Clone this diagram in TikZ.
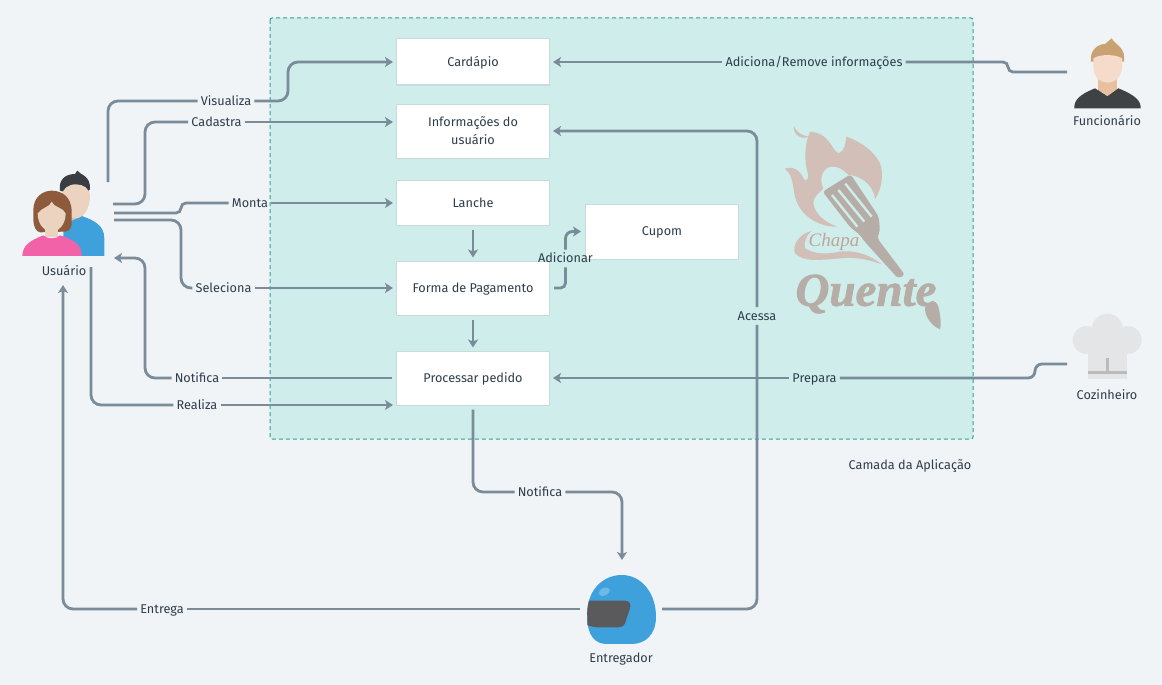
\documentclass[tikz,border=0pt]{standalone}
\usepackage{fontspec}
\setmainfont{Fira Sans}
\newfontfamily\logofont{Liberation Serif}
\newfontfamily\quentefont{Liberation Serif}[BoldItalicFeatures={FakeBold=1.6}]
\usetikzlibrary{arrows.meta,calc}
\definecolor{bgc}{HTML}{F0F4F7}
\definecolor{layerc}{HTML}{CEEDEB}
\definecolor{tealb}{HTML}{2FA297}
\definecolor{linec}{HTML}{7A8B99}
\definecolor{txt}{HTML}{2E3D4C}
\definecolor{boxb}{HTML}{C9DADB}
\definecolor{flame}{HTML}{D1BFB8}
\definecolor{spat}{HTML}{B5ADA6}
\definecolor{chapac}{HTML}{BFA59D}
\definecolor{skin}{HTML}{ECD3BF}
\definecolor{skind}{HTML}{E3C0A3}
\definecolor{cblue}{HTML}{3FA1DC}
\definecolor{cdark}{HTML}{3A3D42}
\definecolor{cbrown}{HTML}{8D5B3C}
\definecolor{cpink}{HTML}{F262A9}
\definecolor{ctan}{HTML}{C9A273}
\definecolor{cneck}{HTML}{E8C09F}
\definecolor{cshirt}{HTML}{3F4245}
\definecolor{cface}{HTML}{F6DACA}
\definecolor{chat}{HTML}{E3E5E7}
\definecolor{cband}{HTML}{B9BBBC}
\definecolor{cvisor}{HTML}{5A5A5C}
\definecolor{cshine}{HTML}{6DBAE8}
\tikzset{
  box/.style={draw=boxb,line width=1pt,fill=white,minimum width=153pt,inner sep=0pt,align=center,text=txt,font=\fontsize{12.7}{18}\selectfont},
  oneline/.style={text height=10pt,text depth=1.4pt},
  lab/.style={oneline,inner sep=3pt,text=txt,font=\fontsize{12.7}{14}\selectfont},
  captxt/.style={oneline,inner sep=0pt,text=txt,font=\fontsize{12.7}{14}\selectfont},
  conn/.style={draw=linec,line width=2.8pt,rounded corners=10pt},
  arr/.style={conn,-{Stealth[length=8pt,width=10pt,inset=2pt]}},
  iconz/.style={x=0.3333pt,y=-0.3333pt}
}
\begin{document}
\begin{tikzpicture}[x=1pt,y=-1pt]
\useasboundingbox (0,0) rectangle (1162,685);
\fill[bgc] (0,0) rectangle (1162,685);
% application layer
\draw[fill=layerc,draw=tealb,line width=1pt,dash pattern=on 4pt off 3pt,rounded corners=2pt] (270,18) rectangle (973,439);
\node[captxt] (camada) at (910,465) {Camada da Aplicação};
% logo
\begin{scope}[shift={(780,120)},iconz]
\fill[flame] (42,18) .. controls (38,40) and (60,62) .. (87,50) .. controls (70,48) and (50,40) .. (42,18) -- cycle;
\fill[flame] (90,35) .. controls (75,70) and (70,120) .. (85,165) .. controls (85,178) and (78,185) .. (72,178) .. controls (60,150) and (40,138) .. (14,146) .. controls (40,165) and (38,200) .. (45,230) .. controls (60,290) and (120,322) .. (172,320) .. controls (130,305) and (105,280) .. (100,250) .. controls (100,225) and (125,215) .. (130,205) .. controls (115,175) and (130,140) .. (155,140) .. controls (180,140) and (190,150) .. (205,165) .. controls (235,165) and (280,190) .. (285,237) .. controls (305,210) and (312,160) .. (300,130) .. controls (280,90) and (240,65) .. (200,50) .. controls (195,70) and (195,95) .. (175,100) .. controls (150,85) and (150,40) .. (90,35) -- cycle;
\end{scope}
\begin{scope}[shift={(790,225)},iconz]
\fill[flame] (65,18) .. controls (30,25) and (5,60) .. (15,85) .. controls (40,112) and (90,105) .. (150,100) .. controls (200,95) and (240,105) .. (275,118) .. controls (240,90) and (200,75) .. (150,80) .. controls (100,90) and (70,85) .. (45,70) .. controls (40,50) and (50,30) .. (65,18) -- cycle;
\end{scope}
\begin{scope}[shift={(770,110)},iconz]
\fill[spat,rounded corners=3pt] (158,245) -- (242,193) -- (326,320) -- (330,360) -- (322,385) -- (405,495) -- (384,505) -- (285,396) -- (270,375) -- (240,351) -- cycle;
\fill[spat] (465,595) .. controls (480,570) and (495,565) .. (505,590) .. controls (510,610) and (515,640) .. (510,658) .. controls (490,650) and (465,625) .. (465,595) -- cycle;
\draw[layerc,line width=2.4pt] (186,255) -- (262,350);
\draw[layerc,line width=2.4pt] (205,240) -- (283,335);
\draw[layerc,line width=2.4pt] (226,221) -- (305,320);
\end{scope}
\node[inner sep=0pt,text=chapac,font=\logofont\itshape\fontsize{19}{20}\selectfont] (chapa) at (834,242) {Chapa};
\node[inner sep=0pt,text=spat,font=\quentefont\bfseries\itshape\fontsize{47}{48}\selectfont] (quente) at (866,294) {Quente};
% boxes
\node[box,oneline,minimum height=46pt] (cardapio) at (473,62) {Cardápio};
\node[box,minimum height=54pt] (info) at (473,131) {Informações do\\usuário};
\node[box,oneline,minimum height=45pt] (lanche) at (473,203) {Lanche};
\node[box,oneline,minimum height=54pt] (forma) at (473,288) {Forma de Pagamento};
\node[box,oneline,minimum height=54pt] (proc) at (473,378) {Processar pedido};
\node[box,oneline,minimum height=55pt] (cupom) at (662,231.5) {Cupom};
% connector free ends
\coordinate (uA) at (108,182);
\coordinate (uB) at (113,204);
\coordinate (uC) at (114,213);
\coordinate (uD) at (114,220);
\coordinate (uE) at (114,258);
\coordinate (uF) at (91,267);
\coordinate (uG) at (63,285);
\coordinate (fun) at (1067,72);
\coordinate (coz) at (1067,364);
\coordinate (entL) at (580,609);
\coordinate (entR) at (662,609);
\coordinate (entT) at (622,560);
% labels
\node[lab] (visualiza) at (226,101) {Visualiza};
\node[lab] (cadastra) at (216.5,122) {Cadastra};
\node[lab] (monta) at (250,203) {Monta};
\node[lab] (seleciona) at (223.5,288) {Seleciona};
\node[lab] (notifica) at (197,378) {Notifica};
\node[lab] (realiza) at (197,405) {Realiza};
\node[lab] (entrega) at (162,609) {Entrega};
\node[lab] (acessa) at (757,316) {Acessa};
\node[lab] (adiciona) at (814,62) {Adiciona/Remove informações};
\node[lab] (prepara) at (814.5,378) {Prepara};
\node[lab] (notifb) at (540,492) {Notifica};
\node[lab] (adicionar) at (565.5,258.5) {Adicionar};
% connectors
\draw[conn] (uA) -- (108,101) -- (visualiza.west);
\draw[arr,shorten >=3pt] (visualiza.east) -- (288,101) -- (288,62) -- (cardapio.west);
\draw[conn] (uB) -- (145,204) -- (145,122) -- (cadastra.west);
\draw[arr,shorten >=3pt] (cadastra.east) -- (info.west |- cadastra.east);
\draw[conn,rounded corners=5pt] (uC) -- (181,213) -- (181,203) -- (monta.west);
\draw[arr,shorten >=3pt] (monta.east) -- (lanche.west);
\draw[conn] (uD) -- (181,220) -- (181,288) -- (seleciona.west);
\draw[arr,shorten >=3pt] (seleciona.east) -- (forma.west);
\draw[conn,shorten <=4pt] (proc.west) -- (notifica.east);
\draw[arr] (notifica.west) -- (145,378) -- (145,258) -- (uE);
\draw[conn] (uF) -- (91,405) -- (realiza.west);
\draw[arr,shorten >=3pt] (realiza.east) -- (proc.west |- realiza.east);
\draw[conn] (entL) -- (entrega.east);
\draw[arr] (entrega.west) -- (63,609) -- (uG);
\draw[conn] (entR) -- (757,609) -- (acessa.south);
\draw[arr,shorten >=3pt] (acessa.north) -- (757,131) -- (info.east);
\draw[conn,rounded corners=5pt] (fun) -- (1008,72) -- (1008,62) -- (adiciona.east);
\draw[arr,shorten >=3pt] (adiciona.west) -- (cardapio.east);
\draw[conn,rounded corners=7pt] (coz) -- (1035,364) -- (1035,378) -- (prepara.east);
\draw[arr,shorten >=3pt] (prepara.west) -- (proc.east);
\draw[conn,shorten <=4pt] (proc.south) -- (473,492) -- (notifb.west);
\draw[arr] (notifb.east) -- (622,492) -- (entT);
\draw[arr,shorten <=4pt,shorten >=3pt] (lanche.south) -- (forma.north);
\draw[arr,shorten <=4pt,shorten >=3pt] (forma.south) -- (proc.north);
\draw[conn,rounded corners=5pt,shorten <=4pt] (forma.east) -- (adicionar.south |- forma.east) -- (adicionar.south);
\draw[arr,rounded corners=7pt,shorten >=4pt] (adicionar.north) -- (adicionar.north |- cupom.west) -- (cupom.west);
% Usuario icon
\begin{scope}[shift={(0,150)},iconz]
\fill[skind] (208,170) rectangle (250,215);
\fill[cblue] (190,318) -- (190,225) -- (245,198) .. controls (280,210) and (313,225) .. (313,265) -- (313,318) -- cycle;
\fill[cdark] (180,122) .. controls (175,90) and (195,72) .. (225,72) -- (232,62) .. controls (240,75) and (272,75) .. (270,118) -- (262,125) -- (190,125) -- cycle;
\fill[skin] (186,140) .. controls (186,115) and (205,103) .. (228,103) .. controls (250,103) and (270,115) .. (270,140) .. controls (270,175) and (250,205) .. (228,205) .. controls (205,205) and (186,175) .. (186,140) -- cycle;
\fill[cbrown] (100,180) .. controls (100,140) and (130,122) .. (155,122) .. controls (185,122) and (215,140) .. (215,185) -- (215,225) .. controls (212,240) and (200,248) .. (190,245) -- (120,247) .. controls (108,245) and (100,230) .. (100,205) -- cycle;
\fill[skin] (135,235) rectangle (175,262);
\fill[skin] (113,190) .. controls (125,172) and (150,172) .. (155,155) .. controls (160,172) and (190,172) .. (197,190) .. controls (197,225) and (175,245) .. (155,245) .. controls (135,245) and (113,225) .. (113,190) -- cycle;
\fill[cpink] (67,318) .. controls (68,285) and (90,272) .. (130,256) .. controls (140,268) and (170,268) .. (180,256) .. controls (225,270) and (245,285) .. (245,318) -- cycle;
\end{scope}
\node[captxt] (usuario) at (64,271) {Usuário};
% Funcionario icon
\begin{scope}[shift={(1050,30)},iconz]
\fill[ctan] (123,95) .. controls (118,60) and (145,42) .. (165,42) -- (185,25) .. controls (195,45) and (228,50) .. (222,95) -- cycle;
\fill[cneck] (145,140) rectangle (200,185);
\fill[cshirt] (73,235) .. controls (72,212) and (85,195) .. (135,175) -- (172,198) -- (205,175) .. controls (255,195) and (273,212) .. (272,235) -- cycle;
\fill[cneck] (145,178) -- (200,178) -- (172,198) -- cycle;
\fill[cface] (130,85) .. controls (150,72) and (195,72) .. (216,85) -- (216,110) .. controls (216,140) and (195,158) .. (172,158) .. controls (150,158) and (130,140) .. (130,110) -- cycle;
\end{scope}
\node[captxt] (funcionario) at (1107,121) {Funcionário};
% Cozinheiro icon
\begin{scope}[shift={(1050,305)},iconz]
\fill[chat] (172,72) circle[radius=15.3pt];
\fill[chat] (110,105) circle[radius=14pt];
\fill[chat] (233,105) circle[radius=14pt];
\fill[chat] (115,100) rectangle (230,222);
\fill[cband] (168,160) rectangle (176,200);
\fill[cband] (115,199) rectangle (230,206);
\end{scope}
\node[captxt] (cozinheiro) at (1107,395) {Cozinheiro};
% Entregador icon
\begin{scope}[shift={(570,560)},iconz]
\fill[cblue] (52,175) .. controls (46,90) and (100,45) .. (155,45) .. controls (215,45) and (258,100) .. (258,170) .. controls (258,225) and (225,252) .. (185,252) -- (110,252) .. controls (75,252) and (52,225) .. (52,175) -- cycle;
\begin{scope}
\clip (52,175) .. controls (46,90) and (100,45) .. (155,45) -- (258,45) -- (258,252) -- (52,252) -- cycle;
\fill[cvisor] (40,122) -- (165,122) .. controls (180,122) and (184,135) .. (180,145) -- (165,190) .. controls (160,200) and (152,202) .. (145,202) -- (85,202) .. controls (70,202) and (56,198) .. (40,190) -- cycle;
\end{scope}
\fill[cshine,rotate around={25:(103,95)}] (103,95) ellipse[x radius=6pt,y radius=3.7pt];
\end{scope}
\node[captxt] (entregador) at (621,658) {Entregador};
\end{tikzpicture}
\end{document}
